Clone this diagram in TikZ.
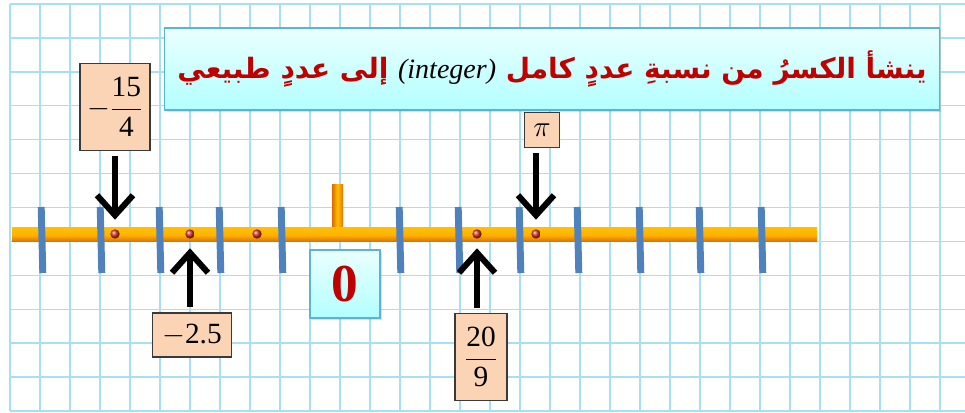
\RequirePackage{fix-cm}
\documentclass[tikz,border=0pt]{standalone}
\usepackage{amsmath}
\usepackage{fontspec}
\setmainfont{Liberation Serif}
\newfontfamily\arabicfont[Script=Arabic]{DejaVu Sans}
\TeXXeTstate=1
\usetikzlibrary{arrows.meta,shadows}

\definecolor{gridcyan}{HTML}{A6E0F2}
\definecolor{tickblue}{HTML}{4F81BD}
\definecolor{peach}{HTML}{FBD4B6}
\definecolor{boxgray}{HTML}{3A3A3A}
\definecolor{titlered}{HTML}{C00000}
\definecolor{titleedge}{HTML}{5BB4D4}
\definecolor{dotred}{HTML}{D9332B}

\begin{document}
\begin{tikzpicture}[x=0.75pt, y=-0.75pt,
    >={Straight Barb[length=15pt,width=27pt]},
    gridline/.style={draw=gridcyan, line width=1.1pt},
    tickmark/.style={draw=tickblue, line width=5.2pt},
    dot/.style={circle, inner sep=0pt, minimum size=7pt, ball color=dotred},
    valbox/.style={draw=boxgray, line width=1.1pt, fill=peach, inner sep=0pt,
        font=\fontsize{22}{24}\selectfont},
    arr/.style={->, line width=4.5pt, shorten <=4pt, shorten >=7pt},
    bluebox/.style={draw=titleedge, line width=1pt, top color=cyan!8, bottom color=cyan!30!white,
        drop shadow={opacity=0.25, shadow xshift=1.5pt, shadow yshift=-1.5pt}}]
    \useasboundingbox (0,0) rectangle (965,413);

    % squared paper
    \foreach \i in {0,...,31}
        \draw[gridline] (10+30*\i,4) -- (10+30*\i,411);
    \foreach \j in {0,...,12}
        \draw[gridline] (10,4+33.917*\j) -- (965,4+33.917*\j);

    \node[bluebox, minimum width=581pt, minimum height=61.5pt] (title) at (552,69)
        {\arabicfont\bfseries\fontsize{21}{24}\selectfont\color{titlered}\beginR ينشأ الكسرُ من نسبةِ عددٍ كامل \beginL{\rmfamily\mdseries\itshape\color{black}(integer)}\endL{} إلى عددٍ طبيعي\endR};

    % number line
    \shade[left color=orange!85!black, right color=orange!90!black, middle color=yellow!50!orange]
        (332,185) rectangle (343,230);
    \node[minimum width=604pt, minimum height=10.5pt, inner sep=0pt,
        top color=yellow!50!orange, bottom color=orange!85!black, middle color=orange!60!yellow] (axis) at (414.5,235) {};
    \foreach \t in {42,101,160,220,282,400,459,520,578,640,700,762}
        \draw[tickmark] (\t-0.8,207) -- (\t+0.8,273);

    \node[dot] (p1) at (115,234) {};
    \node[dot] (p2) at (190,234) {};
    \node[dot] (p3) at (257,234) {};
    \node[dot] (p4) at (477,234) {};
    \node[dot] (p5) at (536,234) {};

    % labels
    \node[valbox, minimum width=52.5pt, minimum height=65pt] (f1) at (115,107)
        {$-\dfrac{\text{15}}{\text{4}}$};
    \node[valbox, minimum width=59pt, minimum height=33pt] (f2) at (192,335)
        {$-\text{2.5}$};
    \node[valbox, minimum width=39pt, minimum height=65pt] (f3) at (481,357)
        {$\dfrac{\text{20}}{\text{9}}$};
    \node[valbox, minimum width=26pt, minimum height=26pt] (f4) at (542,130)
        {$\pi$};
    \node[bluebox, minimum width=52.5pt, minimum height=51pt] (zero) at (345,284)
        {\fontsize{40}{42}\selectfont\bfseries\color{titlered}0};

    \draw[arr] (f1) -- (p1);
    \draw[arr] (f2.north -| p2) -- (p2);
    \draw[arr] (f3.north -| p4) -- (p4);
    \draw[arr] (f4.south -| p5) -- (p5);
\end{tikzpicture}
\end{document}
